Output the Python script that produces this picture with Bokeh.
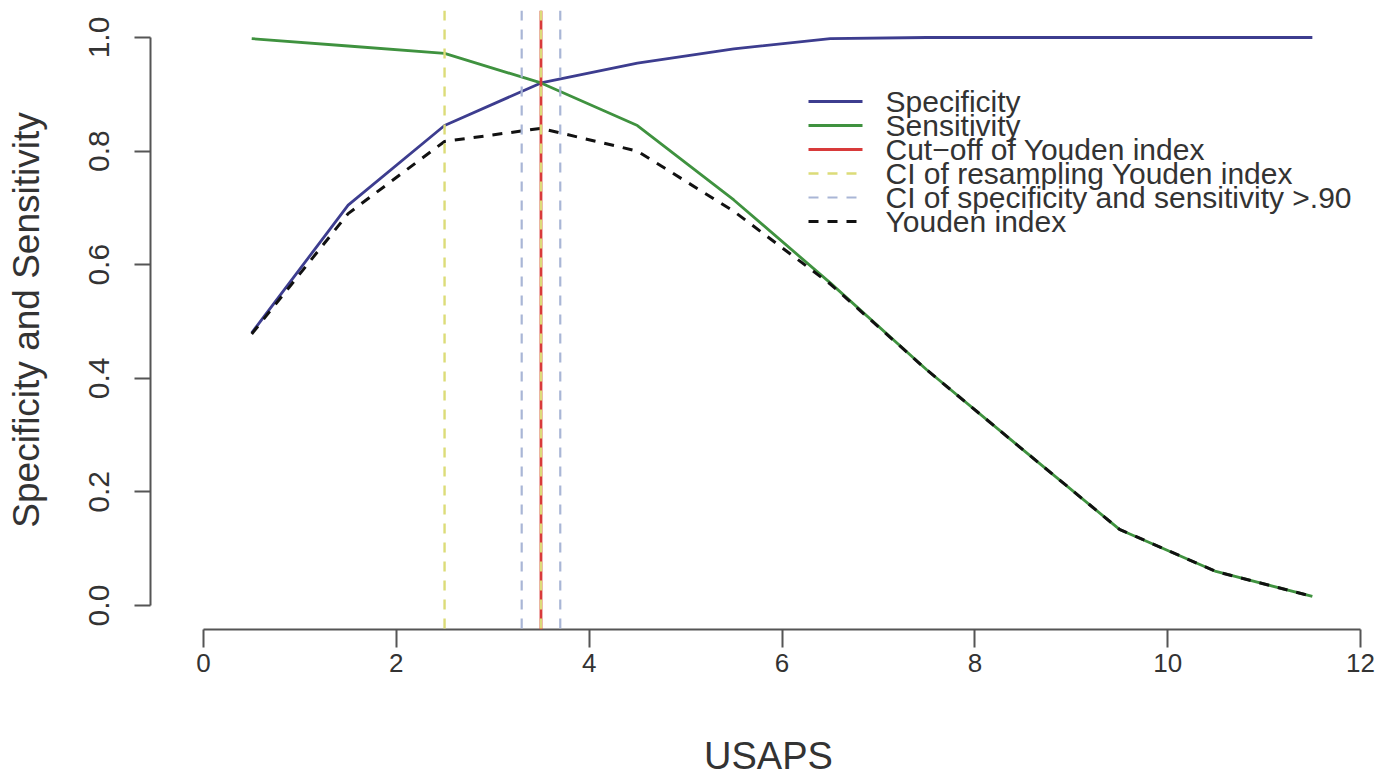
import math
from bokeh.plotting import figure
from bokeh.models import Range1d, FixedTicker, PrintfTickFormatter, Span, Label, Arrow
from bokeh.embed import file_html
from bokeh.resources import INLINE

# USAPS cut-off points and the curves evaluated at them
usaps = [0.5, 1.5, 2.5, 3.5, 4.5, 5.5, 6.5, 7.5, 8.5, 9.5, 10.5, 11.5]
specificity = [0.48, 0.705, 0.845, 0.92, 0.955, 0.98, 0.998, 1.0, 1.0, 1.0, 1.0, 1.0]
sensitivity = [0.998, 0.985, 0.972, 0.92, 0.845, 0.714, 0.568, 0.415, 0.274, 0.134, 0.06, 0.016]
youden = [0.478, 0.69, 0.817, 0.84, 0.80, 0.694, 0.566, 0.415, 0.274, 0.134, 0.06, 0.016]

# vertical reference lines
youden_cutoff = 3.5
resampling_ci = [2.5, 3.5]
spec_sens_ci = [3.3, 3.7]

x_ticks = [0, 2, 4, 6, 8, 10, 12]
y_ticks = [0.0, 0.2, 0.4, 0.6, 0.8, 1.0]

legend_labels = ["Specificity", "Sensitivity", "Cut\u2212off of Youden index",
                 "CI of resampling Youden index",
                 "CI of specificity and sensitivity >.90", "Youden index"]

FONT = "Liberation Sans"
SPEC_COL = "#3d3d8f"
SENS_COL = "#3f923f"
CUT_COL = "#d83a3a"
RES_COL = "#dcdc78"
SS_COL = "#a9b6d6"
YOU_COL = "#111111"
TXT = "#333333"

styles = [
    dict(line_color=SPEC_COL, line_width=2.8, line_dash="solid"),
    dict(line_color=SENS_COL, line_width=2.8, line_dash="solid"),
    dict(line_color=CUT_COL, line_width=2.8, line_dash="solid"),
    dict(line_color=RES_COL, line_width=2.4, line_dash="10 9"),
    dict(line_color=SS_COL, line_width=2.2, line_dash="10 9"),
    dict(line_color=YOU_COL, line_width=3, line_dash="10 9"),
]

p = figure(width=1396, height=779, output_backend="svg", toolbar_location=None,
           x_range=Range1d(-0.5497, 12.269), y_range=Range1d(-0.0422, 1.0475),
           min_border_left=150, min_border_right=10, min_border_top=10,
           min_border_bottom=149)
p.outline_line_color = None
p.grid.visible = False
p.background_fill_color = "white"
p.border_fill_color = "white"

p.line(usaps, specificity, **styles[0])
p.line(usaps, sensitivity, **styles[1])
p.line(usaps, youden, **styles[5])

p.add_layout(Span(location=youden_cutoff, dimension="height", **styles[2]))
for loc in resampling_ci:
    p.add_layout(Span(location=loc, dimension="height", **styles[3]))
for loc in spec_sens_ci:
    p.add_layout(Span(location=loc, dimension="height", **styles[4]))

# legend block (screen units measured from the lower-left corner of the frame)
LEG_X0, LEG_X1, LEG_TXT = 658, 712, 735
LEG_TOP, LEG_STEP = 528, 24
for i, (lab, st) in enumerate(zip(legend_labels, styles)):
    yy = LEG_TOP - i * LEG_STEP
    p.add_layout(Arrow(end=None, start=None, x_start=LEG_X0, y_start=yy,
                       x_end=LEG_X1, y_end=yy, start_units="screen",
                       end_units="screen", **st))
    p.add_layout(Label(x=LEG_TXT, y=yy, x_units="screen", y_units="screen",
                       text=lab, text_font=FONT, text_font_size="30px",
                       text_color=TXT, text_baseline="middle", text_align="left"))

# x axis
xa = p.xaxis[0]
xa.ticker = FixedTicker(ticks=x_ticks)
xa.bounds = (0, 12)
xa.minor_tick_line_color = None
xa.major_tick_out = 18
xa.major_tick_in = 0
xa.major_label_standoff = 6
xa.axis_line_width = 2
xa.major_tick_line_width = 2
xa.axis_line_color = "#555555"
xa.major_tick_line_color = "#555555"
xa.major_label_text_font = FONT
xa.major_label_text_font_size = "26px"
xa.major_label_text_color = TXT
xa.axis_label = "USAPS"
xa.axis_label_text_font = FONT
xa.axis_label_text_font_size = "38px"
xa.axis_label_text_font_style = "normal"
xa.axis_label_text_color = TXT
xa.axis_label_standoff = 60

# y axis
ya = p.yaxis[0]
ya.ticker = FixedTicker(ticks=y_ticks)
ya.formatter = PrintfTickFormatter(format="%.1f")
ya.bounds = (0, 1)
ya.minor_tick_line_color = None
ya.major_tick_out = 16
ya.major_tick_in = 0
ya.major_label_standoff = 25
ya.major_label_orientation = "vertical"
ya.axis_line_width = 2
ya.major_tick_line_width = 2
ya.axis_line_color = "#555555"
ya.major_tick_line_color = "#555555"
ya.major_label_text_font = FONT
ya.major_label_text_font_size = "30px"
ya.major_label_text_color = TXT
ya.axis_label = "Specificity and Sensitivity"
ya.axis_label_text_font = FONT
ya.axis_label_text_font_size = "37px"
ya.axis_label_text_font_style = "normal"
ya.axis_label_text_color = TXT
ya.axis_label_standoff = 40

open("out.html", "w").write(file_html(p, INLINE))
